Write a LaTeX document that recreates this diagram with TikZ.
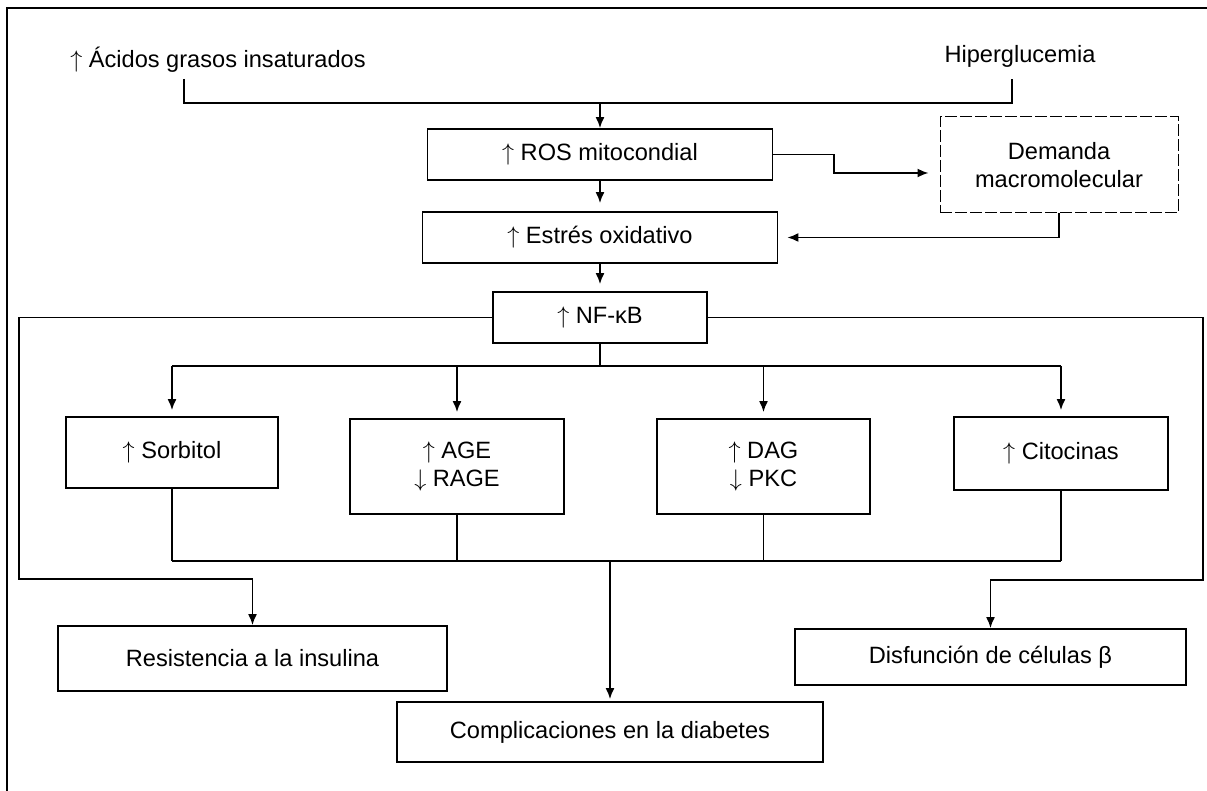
\documentclass[tikz,border=0pt]{standalone}
\usepackage{fontspec}
\setmainfont{Liberation Sans}
\usepackage{tikz}
\usetikzlibrary{calc}
\usetikzlibrary{arrows.meta}
\usetikzlibrary{positioning}

\begin{document}
\begin{tikzpicture}[
x=0.5pt,y=-0.5pt,
every node/.style={font=\fontsize{11.8}{14.3}\selectfont},
MyBoxes/.style={draw=black,line width=0.9pt,inner sep=2pt,align=center},
MyDashed/.style={draw=black,line width=0.5pt,dash pattern=on 6pt off 1.5pt,inner sep=2pt,align=center},
Lines/.style={draw=black,line width=0.85pt},
Arrows/.style={Lines,-{Latex[length=5.5pt, width=4.5pt]}}
]
\useasboundingbox (0,0) rectangle (1207,791);
\draw[line width=0.9pt] (7,791) -- (7,8) -- (1207,8);

% entradas
\node (acidos) at (218,60) {$\uparrow$ Ácidos grasos insaturados};
\node (hiper) at (1020,56) {Hiperglucemia};

% cadena central
\node[MyBoxes, minimum width=172.5pt, minimum height=25.5pt] (ros) at (600,154.5) {$\uparrow$ ROS mitocondial};
\node[MyBoxes, minimum width=177.5pt, minimum height=25.5pt] (estres) at (600,237.5) {$\uparrow$ Estrés oxidativo};
\node[MyDashed, minimum width=119pt, minimum height=48pt] (demanda) at (1059,165) {Demanda\\macromolecular};
\node[MyBoxes, minimum width=107pt, minimum height=25.5pt] (nfkb) at (600,317.5) {$\uparrow$ NF-κB};

% vias
\node[MyBoxes, minimum width=106pt, minimum height=35.5pt] (sorbitol) at (172,452.5) {$\uparrow$ Sorbitol};
\node[MyBoxes, minimum width=107pt, minimum height=47.5pt] (age) at (457,466.5) {$\uparrow$ AGE\\$\downarrow$ RAGE};
\node[MyBoxes, minimum width=106.5pt, minimum height=47.5pt] (dag) at (763.5,466.5) {$\uparrow$ DAG\\$\downarrow$ PKC};
\node[MyBoxes, minimum width=107pt, minimum height=36.5pt] (citocinas) at (1061,453.5) {$\uparrow$ Citocinas};

% consecuencias
\node[MyBoxes, minimum width=194.5pt, minimum height=32.5pt] (resistencia) at (252.5,658.5) {Resistencia a la insulina};
\node[MyBoxes, minimum width=213pt, minimum height=30pt] (complicaciones) at (610,732) {Complicaciones en la diabetes};
\node[MyBoxes, minimum width=195.5pt, minimum height=28pt] (disfuncion) at (990.5,657) {Disfunción de células β};

\coordinate (ac) at (184,79);
\coordinate (hg) at (1012,79);
\coordinate (top) at (0,103);
\coordinate (codo) at (834,173);
\coordinate (bus) at (0,366);
\coordinate (merge) at (0,561);
\coordinate (izq) at (19,579);
\coordinate (der) at (1203,580);

\draw[Lines] (ac) |- (hg |- top) -- (hg);
\draw[Arrows] (ros.north |- top) -- (ros.north);
\draw[Arrows, shorten >=4pt] (ros.south) -- (estres.north);
\draw[Arrows, shorten >=5.5pt] (ros.east) -| (codo) -- (codo -| demanda.west);
\draw[Arrows, shorten >=4.5pt] (demanda.south) |- (estres.east);
\draw[Arrows, shorten >=3.5pt] (estres.south) -- (nfkb.north);

\draw[Arrows] (nfkb.west) -| (izq) -| (resistencia.north);
\draw[Arrows] (nfkb.east) -| (der) -| (disfuncion.north);

\draw[Lines] (nfkb.south) -- (nfkb.south |- bus);
\draw[Lines] (sorbitol.north |- bus) -- (citocinas.north |- bus);
\foreach \n in {sorbitol,age,dag,citocinas}
  \draw[Arrows, shorten >=3pt] (\n.north |- bus) -- (\n.north);

\foreach \n in {sorbitol,age,dag,citocinas}
  \draw[Lines] (\n.south) -- (\n.south |- merge);
\draw[Lines] (sorbitol.south |- merge) -- (citocinas.south |- merge);
\draw[Arrows, shorten >=1pt] (complicaciones.north |- merge) -- (complicaciones.north);

\end{tikzpicture}
\end{document}
